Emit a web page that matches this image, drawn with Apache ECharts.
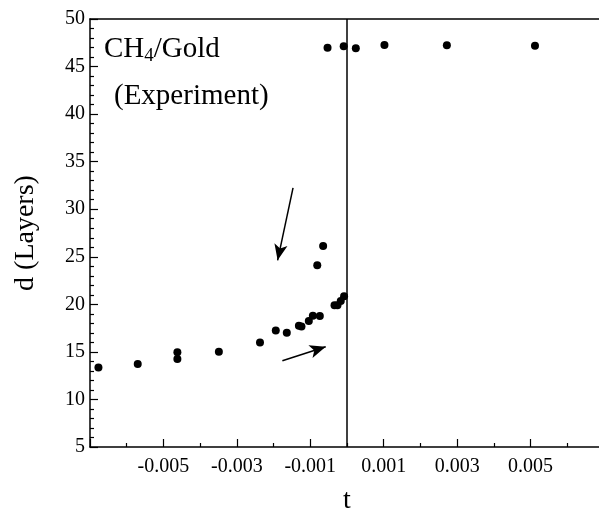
<!DOCTYPE html>
<html>
<head>
<meta charset="utf-8">
<script src="https://cdn.jsdelivr.net/npm/echarts@6/dist/echarts.min.js"></script>
<style>html,body{margin:0;padding:0;background:#fff}#c{width:599px;height:510px}</style>
</head>
<body>
<div id="c"></div>
<script>
// t values (reduced temperature) and d (layers)
const tValues = [-0.00677, -0.00570, -0.00462, -0.00462, -0.00349, -0.00237, -0.00194, -0.00164,
  -0.00131, -0.00124, -0.00104, -0.00093, -0.00074, -0.00081, -0.00065, -0.00034, -0.00026,
  -0.00017, -0.00008, -0.00053, -0.00009, 0.00024, 0.00102, 0.00272, 0.00512];
const dValues = [13.37, 13.72, 14.95, 14.24, 15.02, 16.0, 17.26, 17.02,
  17.76, 17.68, 18.24, 18.8, 18.77, 24.1, 26.14, 19.9, 19.9,
  20.35, 20.84, 46.98, 47.13, 46.92, 47.26, 47.23, 47.19];
const xTicks = [-0.005, -0.003, -0.001, 0.001, 0.003, 0.005];
// annotation arrows in data coordinates: [tStart, dStart, tEnd, dEnd]
const arrow1 = [-0.00147, 32.24, -0.00189, 24.63];
const arrow2 = [-0.00176, 14.07, -0.00058, 15.54];

const FONT = 'Liberation Serif';
const points = tValues.map((t, i) => [t, dValues[i]]);
const arrowItem = a => [
  {coord: [a[0], a[1]], symbol: 'none'},
  {coord: [a[2], a[3]], symbol: 'arrow', symbolSize: [10, 16]}
];

const chart = echarts.init(document.getElementById('c'));
chart.setOption({
  animation: false,
  backgroundColor: '#fff',
  grid: {left: 90, top: 19, width: 514, height: 428, outerBoundsMode: 'none', containLabel: false},
  xAxis: [{
    type: 'value', min: -0.007, max: 0.007, interval: 0.002,
    name: 't', nameLocation: 'middle', nameGap: 40,
    nameTextStyle: {fontFamily: FONT, fontSize: 28, color: '#000'},
    axisLine: {show: true, lineStyle: {color: '#000', width: 1.5}},
    axisTick: {show: true, inside: true, length: 8, lineStyle: {color: '#000', width: 1.2}},
    minorTick: {show: true, splitNumber: 2, length: 4, lineStyle: {color: '#000', width: 1.2}},
    splitLine: {show: false},
    axisLabel: {
      fontFamily: FONT, fontSize: 20, color: '#000', margin: 10,
      showMinLabel: false, showMaxLabel: false,
      formatter: v => {
        const m = xTicks.find(x => Math.abs(x - v) < 1e-9);
        return m === undefined ? '' : m.toFixed(3);
      }
    }
  }, {
    type: 'value', position: 'top', min: -0.007, max: 0.007,
    axisLine: {show: true, onZero: false, lineStyle: {color: '#000', width: 1.5}},
    axisTick: {show: false}, axisLabel: {show: false}, splitLine: {show: false}
  }],
  yAxis: {
    type: 'value', min: 5, max: 50, interval: 5,
    name: 'd (Layers)', nameLocation: 'middle', nameGap: 50,
    nameTextStyle: {fontFamily: FONT, fontSize: 28, color: '#000'},
    axisLine: {show: true, onZero: false, lineStyle: {color: '#000', width: 1.5}},
    axisTick: {show: true, inside: true, length: 8, lineStyle: {color: '#000', width: 1.2}},
    minorTick: {show: true, splitNumber: 5, length: 4, lineStyle: {color: '#000', width: 1.2}},
    splitLine: {show: false},
    axisLabel: {fontFamily: FONT, fontSize: 20, color: '#000', margin: 5}
  },
  graphic: [{
    type: 'text', left: 104, top: 35,
    style: {
      text: '{a|CH}{s|4}{a|/Gold}',
      rich: {
        a: {fontFamily: FONT, fontSize: 29, fill: '#000'},
        s: {fontFamily: FONT, fontSize: 19, fill: '#000', padding: [13, 0, 0, 0]}
      }
    }
  }, {
    type: 'text', left: 114, top: 82,
    style: {text: '(Experiment)', fontFamily: FONT, fontSize: 29, fill: '#000'}
  }],
  series: [{
    type: 'scatter', data: points, symbol: 'circle', symbolSize: 8,
    itemStyle: {color: '#000', opacity: 1},
    silent: true,
    markLine: {
      silent: true, animation: false,
      label: {show: false},
      lineStyle: {color: '#000', width: 1.5, type: 'solid'},
      symbol: ['none', 'none'],
      data: [
        {xAxis: 0},
        arrowItem(arrow1),
        arrowItem(arrow2)
      ]
    }
  }]
});
</script>
</body>
</html>
